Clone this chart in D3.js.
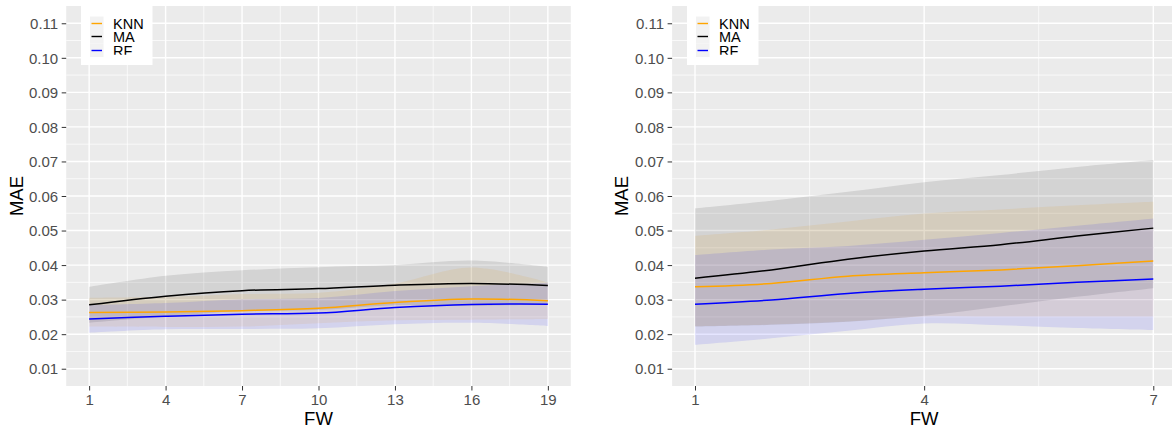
<!DOCTYPE html>
<html>
<head>
<meta charset="utf-8">
<script src="https://cdn.jsdelivr.net/npm/d3@7"></script>
<style>
  body { margin: 0; background: #fff; }
  svg { display: block; font-family: "Liberation Sans", Arial, sans-serif; }
  .tick text { fill: #4d4d4d; font-size: 15px; }
  .tick line { stroke: #333; }
</style>
</head>
<body>
<script>
// values
var series = ["KNN", "MA", "RF"];
var colors = ["orange", "black", "blue"];
var yTicks = [0.01, 0.02, 0.03, 0.04, 0.05, 0.06, 0.07, 0.08, 0.09, 0.10, 0.11];

// left panel
var fwLeft = [1, 4, 7, 10, 13, 16, 19];
var xTicksLeft = [1, 4, 7, 10, 13, 16, 19];
var knnLeft   = [0.0263, 0.0264, 0.0268, 0.0275, 0.0292, 0.0302, 0.0297];
var knnLeftLo = [0.0222, 0.0221, 0.0222, 0.0232, 0.0240, 0.0242, 0.0244];
var knnLeftHi = [0.0305, 0.0308, 0.0316, 0.0320, 0.0347, 0.0393, 0.0350];
var maLeft    = [0.0285, 0.0310, 0.0326, 0.0332, 0.0342, 0.0347, 0.0341];
var maLeftLo  = [0.0233, 0.0251, 0.0267, 0.0270, 0.0284, 0.0282, 0.0287];
var maLeftHi  = [0.0337, 0.0369, 0.0385, 0.0394, 0.0400, 0.0413, 0.0395];
var rfLeft    = [0.0244, 0.0252, 0.0258, 0.0261, 0.0277, 0.0286, 0.0287];
var rfLeftLo  = [0.0204, 0.0214, 0.0215, 0.0217, 0.0229, 0.0233, 0.0224];
var rfLeftHi  = [0.0284, 0.0290, 0.0301, 0.0305, 0.0325, 0.0339, 0.0349];

// right panel
var fwRight = [1, 2, 3, 4, 5, 6, 7];
var xTicksRight = [1, 4, 7];
var knnRight   = [0.0337, 0.0347, 0.0368, 0.0378, 0.0386, 0.0398, 0.0412];
var knnRightLo = [0.0223, 0.0228, 0.0237, 0.0251, 0.0251, 0.0251, 0.0251];
var knnRightHi = [0.0485, 0.0503, 0.0526, 0.0549, 0.0561, 0.0573, 0.0583];
var maRight    = [0.0362, 0.0386, 0.0417, 0.0441, 0.0459, 0.0484, 0.0507];
var maRightLo  = [0.0222, 0.0227, 0.0236, 0.0253, 0.0280, 0.0308, 0.0333];
var maRightHi  = [0.0564, 0.0586, 0.0612, 0.0640, 0.0661, 0.0684, 0.0704];
var rfRight    = [0.0287, 0.0299, 0.0318, 0.0330, 0.0339, 0.0350, 0.0360];
var rfRightLo  = [0.0169, 0.0188, 0.0210, 0.0231, 0.0226, 0.0218, 0.0212];
var rfRightHi  = [0.0429, 0.0445, 0.0455, 0.0473, 0.0493, 0.0514, 0.0535];

var w = 1172, h = 428;

var svg = d3.select("body").append("svg")
    .attr("width", w)
    .attr("height", h);

function panel(opt) {
    var x = d3.scaleLinear().domain(opt.xDomain).range([opt.left, opt.right]);
    var y = d3.scaleLinear().domain([0.005, 0.115]).range([386, 6]);
    var g = svg.append("g");

    //background
    g.append("rect")
        .attr("x", opt.left).attr("y", y(0.115))
        .attr("width", opt.right - opt.left).attr("height", y(0.005) - y(0.115))
        .attr("fill", "#ebebeb");

    //grid
    var yMinor = yTicks.slice(0, -1).map(d => d + 0.005);
    var xMinor = opt.xTicks.slice(0, -1).map((d, i) => (d + opt.xTicks[i + 1]) / 2);
    g.selectAll(".ymin").data(yMinor).enter().append("line")
        .attr("x1", opt.left).attr("x2", opt.right)
        .attr("y1", d => y(d)).attr("y2", d => y(d))
        .attr("stroke", "#fff").attr("stroke-width", 0.7);
    g.selectAll(".xmin").data(xMinor).enter().append("line")
        .attr("y1", y(0.005)).attr("y2", y(0.115))
        .attr("x1", d => x(d)).attr("x2", d => x(d))
        .attr("stroke", "#fff").attr("stroke-width", 0.7);
    g.selectAll(".ymaj").data(yTicks).enter().append("line")
        .attr("x1", opt.left).attr("x2", opt.right)
        .attr("y1", d => y(d)).attr("y2", d => y(d))
        .attr("stroke", "#fff").attr("stroke-width", 1.4);
    g.selectAll(".xmaj").data(opt.xTicks).enter().append("line")
        .attr("y1", y(0.005)).attr("y2", y(0.115))
        .attr("x1", d => x(d)).attr("x2", d => x(d))
        .attr("stroke", "#fff").attr("stroke-width", 1.4);

    var sets = opt.data.map(s => opt.fw.map((f, j) => ({fw: f, v: s.v[j], lo: s.lo[j], hi: s.hi[j]})));

    //ribbons first, then the lines on top
    sets.forEach(function(pts, i) {
        g.append("path")
            .datum(pts)
            .attr("fill", colors[i])
            .attr("fill-opacity", 0.1)
            .attr("d", d3.area()
                .curve(d3.curveCatmullRom)
                .x(d => x(d.fw))
                .y0(d => y(d.lo))
                .y1(d => y(d.hi)));
    });
    sets.forEach(function(pts, i) {
        g.append("path")
            .datum(pts)
            .attr("fill", "none")
            .attr("stroke", colors[i])
            .attr("stroke-width", 1.5)
            .attr("d", d3.line()
                .curve(d3.curveCatmullRom)
                .x(d => x(d.fw))
                .y(d => y(d.v)));
    });

    //axes
    var yAxis = g.append("g")
        .attr("transform", "translate(" + opt.left + ",0)")
        .call(d3.axisLeft(y).tickValues(yTicks).tickSize(4.5).tickPadding(3.5)
            .tickFormat(d3.format(".2f")));
    yAxis.select(".domain").remove();
    yAxis.selectAll("text").attr("dy", "0.35em");

    var xAxis = g.append("g")
        .attr("transform", "translate(0," + y(0.005) + ")")
        .call(d3.axisBottom(x).tickValues(opt.xTicks).tickSize(4.5).tickPadding(3.5)
            .tickFormat(d3.format("d")));
    xAxis.select(".domain").remove();
    xAxis.selectAll("text").attr("dy", "0.74em");

    //axis titles
    g.append("text")
        .text("FW")
        .attr("x", (opt.left + opt.right) / 2)
        .attr("y", 425)
        .attr("text-anchor", "middle")
        .attr("font-size", 18.5);
    g.append("text")
        .text("MAE")
        .attr("transform", "translate(" + opt.titleX + "," + ((y(0.005) + y(0.115)) / 2) + ") rotate(-90)")
        .attr("text-anchor", "middle")
        .attr("font-size", 18.5);

    //legend
    var lx = opt.legendX;
    var lg = g.append("g");
    lg.append("rect")
        .attr("x", lx).attr("y", 5)
        .attr("width", 71.5).attr("height", 60)
        .attr("fill", "#fff");
    var clipId = "clip" + opt.id;
    lg.append("clipPath").attr("id", clipId)
        .append("rect").attr("x", lx).attr("y", 5).attr("width", 72).attr("height", 49.8);
    series.forEach(function(name, i) {
        var cy = 23.3 + i * 13.5;
        var ly = Math.floor(cy) + 0.5;
        lg.append("rect")
            .attr("x", lx + 9).attr("y", cy - 6.75)
            .attr("width", 13.5).attr("height", 13.5)
            .attr("fill", "#f2f2f2");
        lg.append("line")
            .attr("x1", lx + 10.5).attr("x2", lx + 21)
            .attr("y1", ly).attr("y2", ly)
            .attr("stroke", colors[i]).attr("stroke-width", 1.4);
        lg.append("text")
            .text(name)
            .attr("x", lx + 32)
            .attr("y", cy)
            .attr("dy", "0.36em")
            .attr("font-size", 14.5)
            .attr("clip-path", "url(#" + clipId + ")");
    });
}

panel({
    id: "L",
    left: 66.2, right: 570.8, xDomain: [0.1, 19.9],
    xTicks: xTicksLeft, fw: fwLeft, titleX: 23.3, legendX: 81,
    data: [
        {v: knnLeft, lo: knnLeftLo, hi: knnLeftHi},
        {v: maLeft, lo: maLeftLo, hi: maLeftHi},
        {v: rfLeft, lo: rfLeftLo, hi: rfLeftHi}
    ]
});

panel({
    id: "R",
    left: 672.1, right: 1176.2, xDomain: [0.7, 7.3],
    xTicks: xTicksRight, fw: fwRight, titleX: 628, legendX: 687,
    data: [
        {v: knnRight, lo: knnRightLo, hi: knnRightHi},
        {v: maRight, lo: maRightLo, hi: maRightHi},
        {v: rfRight, lo: rfRightLo, hi: rfRightHi}
    ]
});
</script>
</body>
</html>
